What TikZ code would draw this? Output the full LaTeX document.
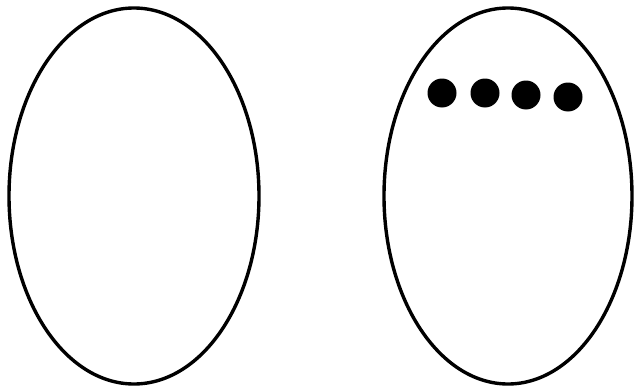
\documentclass[tikz,border=0pt]{standalone}
\begin{document}
\begin{tikzpicture}[x=0.03cm,y=-0.03cm]
  \useasboundingbox (0,0) rectangle (636,392);
  \tikzset{egg/.style={line width=2.9pt},
           bead/.style={fill=black}}
  \draw[egg] (134,196) ellipse [x radius=125,y radius=188];   % empty set
  \draw[egg] (508,196) ellipse [x radius=124,y radius=188];   % set with four beads
  \foreach \bx/\by in {442/93, 485/93, 526/95, 568/97}
    \fill[bead] (\bx,\by) circle (14.5);
\end{tikzpicture}
\end{document}
